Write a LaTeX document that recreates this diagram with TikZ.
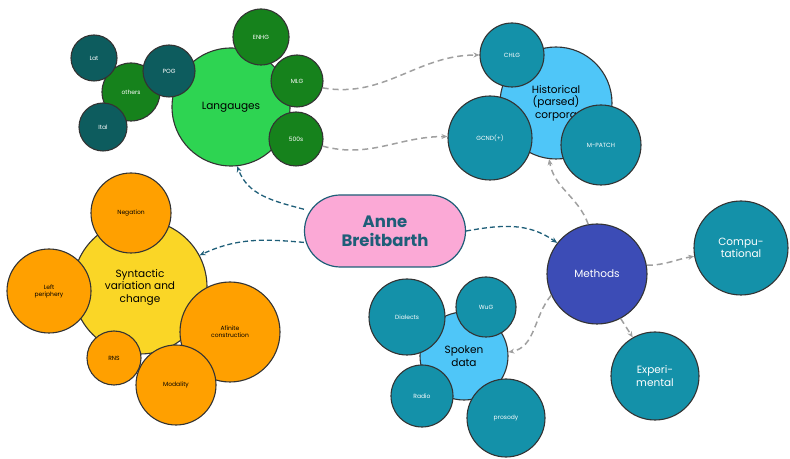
\documentclass[tikz,border=0pt]{standalone}
\usepackage{fontspec}
\setmainfont{Poppins}
\usetikzlibrary{arrows.meta}

\definecolor{langgreen}{HTML}{2ED452}
\definecolor{darkgreen}{HTML}{16821C}
\definecolor{darkteal}{HTML}{0D5C5E}
\definecolor{skyblue}{HTML}{4FC6F8}
\definecolor{teal}{HTML}{1491A9}
\definecolor{sunyellow}{HTML}{FAD626}
\definecolor{orange}{HTML}{FFA000}
\definecolor{indigo}{HTML}{3C4CB6}
\definecolor{pinkbox}{HTML}{FBA9D6}
\definecolor{navyteal}{HTML}{1E5E78}
\definecolor{arrowgray}{HTML}{A0A0A0}

\tikzset{
  bubble/.style={circle, draw=black!80, line width=1.1pt, inner sep=0pt, align=center},
  tiny/.style={bubble, font=\fontsize{6}{7}\selectfont, text=white},
  hub/.style={bubble, font=\fontsize{10.5}{12.5}\selectfont},
  mainlink/.style={navyteal, line width=1.3pt, dash pattern=on 5pt off 3pt, -{Stealth[length=6pt,width=5pt]}},
  sublink/.style={arrowgray, line width=1.5pt, dash pattern=on 6pt off 4pt, -{Stealth[length=6pt,width=5pt]}}
}

\begin{document}
\begin{tikzpicture}[x=1pt, y=1pt]
    \useasboundingbox (0,0) rectangle (790,458);

    % Langauges
    \node[hub, fill=langgreen, minimum size=118pt] (lang) at (231,351) {Langauges};
    \node[tiny, fill=darkgreen, minimum size=58pt] (others) at (131,366) {others};
    \node[tiny, fill=darkteal, minimum size=46pt] (lat) at (94,400) {Lat};
    \node[tiny, fill=darkteal, minimum size=48pt] (ital) at (103,331) {Ital};
    \node[tiny, fill=darkteal, minimum size=52pt] (pog) at (169,387) {POG};
    \node[tiny, fill=darkgreen, minimum size=56pt] (enhg) at (261,421) {ENHG};
    \node[tiny, fill=darkgreen, minimum size=52pt] (mlg) at (297,377) {MLG};
    \node[tiny, fill=darkgreen, minimum size=54pt] (s500) at (296,319) {500s};

    % Historical corpora
    \node[hub, fill=skyblue, minimum size=112pt] (hist) at (556,355) {Historical\\(parsed)\\corpora};
    \node[tiny, fill=teal, minimum size=64pt] (chlg) at (512,403) {CHLG};
    \node[tiny, fill=teal, minimum size=84pt] (gcnd) at (490,320) {GCND(+)};
    \node[tiny, fill=teal, minimum size=80pt] (mpatch) at (601,313) {M-PATCH};

    % Syntactic variation
    \node[hub, fill=sunyellow, minimum size=134pt] (synt) at (140,171) {Syntactic\\variation and\\change};
    \node[tiny, text=black, fill=orange, minimum size=80pt] (neg) at (131,245) {Negation};
    \node[tiny, text=black, fill=orange, minimum size=84pt] (left) at (49,167) {Left\\periphery};
    \node[tiny, text=black, fill=orange, minimum size=100pt] (afin) at (230,126) {Afinite\\construction};
    \node[tiny, text=black, fill=orange, minimum size=54pt] (rns) at (114,100) {RNS};
    \node[tiny, text=black, fill=orange, minimum size=80pt] (modal) at (176,73) {Modality};

    % Anne
    \node[draw=navyteal, line width=1.2pt, fill=pinkbox, rounded corners=36pt,
          minimum width=161pt, minimum height=72pt, align=center, text=navyteal,
          font=\fontsize{16.5}{19}\selectfont\bfseries] (anne) at (385,227) {Anne\\Breitbarth};

    % Methods
    \node[hub, fill=indigo, text=white, minimum size=100pt] (methods) at (597,184) {Methods};
    \node[hub, fill=teal, text=white, minimum size=94pt] (comp) at (741,210) {Compu-\\tational};
    \node[hub, fill=teal, text=white, minimum size=88pt] (exp) at (655,82) {Experi-\\mental};

    % Spoken data
    \node[hub, fill=skyblue, minimum size=88pt] (spoken) at (464,102) {Spoken\\data};
    \node[tiny, fill=teal, minimum size=76pt] (dial) at (407,141) {Dialects};
    \node[tiny, fill=teal, minimum size=60pt] (wug) at (486,151) {WuG};
    \node[tiny, fill=teal, minimum size=62pt] (radio) at (422,62) {Radio};
    \node[tiny, fill=teal, minimum size=78pt] (prosody) at (506,40) {prosody};

    % links from Anne
    \draw[mainlink] (anne.165) to[out=165, in=-70] (lang.-84);
    \draw[mainlink] (anne.188) to[out=175, in=25] (synt.28);
    \draw[mainlink] (anne.east) to[out=10, in=145] (methods.142);

    % links between topics
    \draw[sublink] (mlg.-15) to[out=-10, in=180] (chlg.west);
    \draw[sublink] (s500.-15) to[out=-15, in=180] (gcnd.178);
    \draw[sublink] (methods.100) to[out=110, in=-80] (hist.-97);
    \draw[sublink] (methods.10) to[out=0, in=190] (comp.190);
    \draw[sublink] (methods.-62) -- (exp.120);
    \draw[sublink] (methods.205) to[out=230, in=10] (spoken.5);
\end{tikzpicture}
\end{document}
